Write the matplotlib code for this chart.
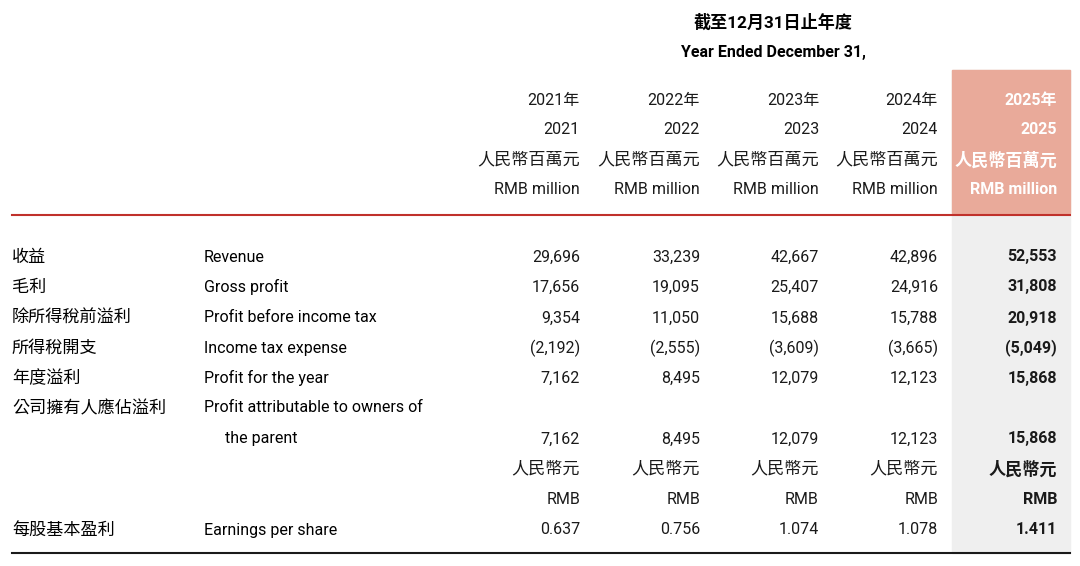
import matplotlib.pyplot as plt
from matplotlib.patches import Rectangle

plt.rcParams['font.family'] = ['Roboto', 'Noto Sans CJK TC', 'DejaVu Sans']

years = ['2021', '2022', '2023', '2024', '2025']
labels_cn = ['收益', '毛利', '除所得稅前溢利', '所得稅開支', '年度溢利', '公司擁有人應佔溢利']
labels_en = ['Revenue', 'Gross profit', 'Profit before income tax', 'Income tax expense',
             'Profit for the year', 'Profit attributable to owners of']
revenue = ['29,696', '33,239', '42,667', '42,896', '52,553']
gross = ['17,656', '19,095', '25,407', '24,916', '31,808']
pbt = ['9,354', '11,050', '15,688', '15,788', '20,918']
tax = ['(2,192)', '(2,555)', '(3,609)', '(3,665)', '(5,049)']
profit = ['7,162', '8,495', '12,079', '12,123', '15,868']
attrib = ['7,162', '8,495', '12,079', '12,123', '15,868']
eps = ['0.637', '0.756', '1.074', '1.078', '1.411']

fig = plt.figure(figsize=(10.8, 5.66), dpi=100)
ax = fig.add_axes([0, 0, 1, 1])
ax.set_xlim(0, 1080)
ax.set_ylim(566, 0)
ax.axis('off')

fs = 11.5
fs_cn = 12.3
col_x = [580, 700, 819, 938, 1057]
hi_color = '#e9aa9a'

# shaded column
ax.add_patch(Rectangle((952, 70), 118, 483, color='#efefef', zorder=0))
ax.add_patch(Rectangle((952, 70), 118, 143, color=hi_color, zorder=0))

ax.text(773, 22, '截至12月31日止年度', ha='center', va='center', fontsize=fs_cn, fontweight='bold')
ax.text(773, 52, 'Year Ended December 31,', ha='center', va='center', fontsize=fs, fontweight='bold')

for i, x in enumerate(col_x):
    last = i == len(col_x) - 1
    c = 'white' if last else '#1a1a1a'
    w = 'bold' if last else 'normal'
    for y, t, s in zip([100, 130, 160, 190], [years[i] + '年', years[i], '人民幣百萬元', 'RMB million'],
                       [fs, fs, fs_cn, fs]):
        ax.text(x, y, t, ha='right', va='center', fontsize=s, color=c, fontweight=w)

ax.plot([12, 1070], [215, 215], color='#c0312b', lw=1.5)
ax.plot([12, 1070], [553, 553], color='#1a1a1a', lw=1.5)

rows_y = [257, 287, 318, 348, 378, 408]
for y, cn, en in zip(rows_y, labels_cn, labels_en):
    ax.text(12, y, cn, ha='left', va='center', fontsize=fs_cn)
    ax.text(204, y, en, ha='left', va='center', fontsize=fs)
ax.text(225, 439, 'the parent', ha='left', va='center', fontsize=fs)
ax.text(12, 530, '每股基本盈利', ha='left', va='center', fontsize=fs_cn)
ax.text(204, 530, 'Earnings per share', ha='left', va='center', fontsize=fs)

values = [(257, revenue), (287, gross), (318, pbt), (348, tax), (378, profit), (439, attrib), (530, eps)]
for i, x in enumerate(col_x):
    w = 'bold' if i == len(col_x) - 1 else 'normal'
    for y, vals in values:
        ax.text(x, y, vals[i], ha='right', va='center', fontsize=fs, fontweight=w, color='#1a1a1a')
    ax.text(x, 469, '人民幣元', ha='right', va='center', fontsize=fs_cn, fontweight=w, color='#1a1a1a')
    ax.text(x, 499, 'RMB', ha='right', va='center', fontsize=fs, fontweight=w, color='#1a1a1a')

fig.savefig('out.png', dpi=100)
